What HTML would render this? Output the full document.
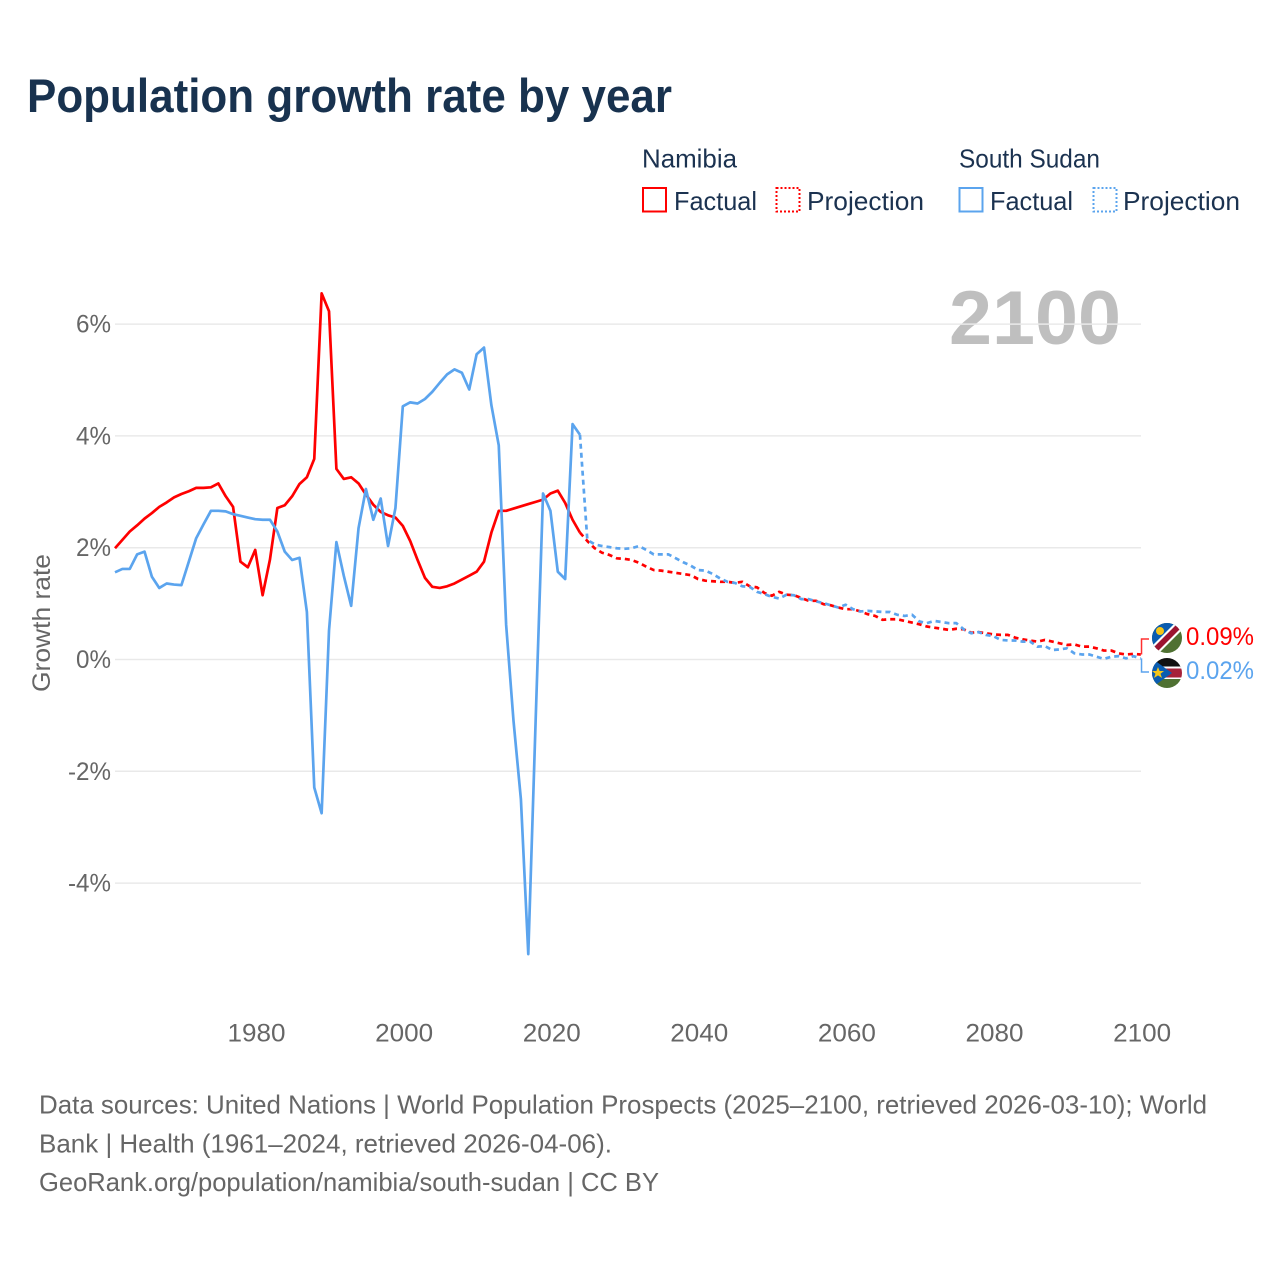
<!DOCTYPE html>
<html lang="en">
<head>
<meta charset="utf-8">
<title>Population growth rate by year</title>
<style>
html,body{margin:0;padding:0;background:#fff;}
svg{display:block;font-family:"Liberation Sans","DejaVu Sans",sans-serif;}
</style>
</head>
<body>
<svg id="chart" xmlns="http://www.w3.org/2000/svg" width="1280" height="1280" viewBox="0 0 1280 1280">
  <defs>
    <clipPath id="clip-flag-na"><circle cx="1167" cy="638" r="15"/></clipPath>
    <clipPath id="clip-flag-ss"><circle cx="1167" cy="673" r="15"/></clipPath>
  </defs>
  <rect width="1280" height="1280" fill="#fff"/>
  <text x="27" y="112" font-size="47" font-weight="700" fill="#18324f" textLength="645" lengthAdjust="spacingAndGlyphs">Population growth rate by year</text>

  <g font-size="26" fill="#1b3250">
    <text x="642" y="167.5" textLength="95" lengthAdjust="spacingAndGlyphs">Namibia</text>
    <text x="959" y="167.5" textLength="141" lengthAdjust="spacingAndGlyphs">South Sudan</text>
    <rect x="643" y="188" width="23" height="23.5" fill="none" stroke="#ff0000" stroke-width="2"/>
    <text x="674" y="210" textLength="83" lengthAdjust="spacingAndGlyphs">Factual</text>
    <rect x="776.5" y="188" width="23" height="23.5" fill="none" stroke="#ff0000" stroke-width="2" stroke-dasharray="2 2"/>
    <text x="807" y="210" textLength="117" lengthAdjust="spacingAndGlyphs">Projection</text>
    <rect x="959.5" y="188" width="23" height="23.5" fill="none" stroke="#5ba4ee" stroke-width="2"/>
    <text x="990" y="210" textLength="83" lengthAdjust="spacingAndGlyphs">Factual</text>
    <rect x="1093.5" y="188" width="23" height="23.5" fill="none" stroke="#5ba4ee" stroke-width="2" stroke-dasharray="2 2"/>
    <text x="1123" y="210" textLength="117" lengthAdjust="spacingAndGlyphs">Projection</text>
  </g>

  <text x="949" y="344" font-size="76" font-weight="700" fill="#bfbfbf" textLength="172" lengthAdjust="spacingAndGlyphs">2100</text>
  <g id="grid"></g>
  <g id="yticks" font-size="25" fill="#666"></g>
  <g id="xticks" font-size="25" fill="#666"></g>
  <text transform="translate(50 623) rotate(-90)" text-anchor="middle" font-size="25" fill="#666" textLength="138" lengthAdjust="spacingAndGlyphs">Growth rate</text>
  <g id="series"></g>
  <g id="connectors"></g>

  <g clip-path="url(#clip-flag-na)">
    <rect x="1150" y="621" width="34" height="34" fill="#4f7132"/>
    <polygon points="1150,621 1184,621 1150,655" fill="#0a5cb0"/>
    <polygon points="1147,651 1180,618 1187,625 1154,658" fill="#fff"/>
    <polygon points="1148.5,652.5 1181.5,619.5 1185.5,623.5 1152.5,656.5" fill="#9c1330"/>
    <circle cx="1160" cy="631" r="4" fill="#f5c518"/>
  </g>
  <g clip-path="url(#clip-flag-ss)">
    <rect x="1150" y="656" width="34" height="12" fill="#111"/>
    <rect x="1150" y="666.5" width="34" height="13" fill="#fff"/>
    <rect x="1150" y="668.5" width="34" height="9" fill="#a6223a"/>
    <rect x="1150" y="679" width="34" height="11" fill="#4f7132"/>
    <polygon points="1150,657 1172,673 1150,689" fill="#0a5cb0"/>
    <polygon points="1158,667 1159.6,671 1164,671 1160.5,673.8 1162,678 1158,675.4 1154,678 1155.5,673.8 1152,671 1156.4,671" fill="#f5c518"/>
  </g>
  <text id="label-na" x="1186" y="645" font-size="25" fill="#ff0000" textLength="68" lengthAdjust="spacingAndGlyphs"></text>
  <text id="label-ss" x="1186" y="679" font-size="25" fill="#5ba4ee" textLength="68" lengthAdjust="spacingAndGlyphs"></text>

  <g font-size="26" fill="#666">
    <text x="39" y="1113.5" textLength="1168" lengthAdjust="spacingAndGlyphs">Data sources: United Nations | World Population Prospects (2025–2100, retrieved 2026-03-10); World</text>
    <text x="39" y="1152.5" textLength="573" lengthAdjust="spacingAndGlyphs">Bank | Health (1961–2024, retrieved 2026-04-06).</text>
    <text x="39" y="1191" textLength="620" lengthAdjust="spacingAndGlyphs">GeoRank.org/population/namibia/south-sudan | CC BY</text>
  </g>
</svg>
<script>
const yTicks = [6, 4, 2, 0, -2, -4];
const xTicks = [1980, 2000, 2020, 2040, 2060, 2080, 2100];
const factualYears = [1961,1962,1963,1964,1965,1966,1967,1968,1969,1970,1971,1972,1973,1974,1975,1976,1977,1978,1979,1980,1981,1982,1983,1984,1985,1986,1987,1988,1989,1990,1991,1992,1993,1994,1995,1996,1997,1998,1999,2000,2001,2002,2003,2004,2005,2006,2007,2008,2009,2010,2011,2012,2013,2014,2015,2016,2017,2018,2019,2020,2021,2022,2023,2024];
const projectionYears = [2024,2025,2026,2027,2028,2029,2030,2031,2032,2033,2034,2035,2036,2037,2038,2039,2040,2041,2042,2043,2044,2045,2046,2047,2048,2049,2050,2051,2052,2053,2054,2055,2056,2057,2058,2059,2060,2061,2062,2063,2064,2065,2066,2067,2068,2069,2070,2071,2072,2073,2074,2075,2076,2077,2078,2079,2080,2081,2082,2083,2084,2085,2086,2087,2088,2089,2090,2091,2092,2093,2094,2095,2096,2097,2098,2099,2100];
const namibiaFactual = [1.99,2.14,2.29,2.40,2.52,2.62,2.73,2.81,2.90,2.96,3.01,3.07,3.07,3.08,3.15,2.92,2.73,1.75,1.65,1.96,1.15,1.79,2.71,2.76,2.92,3.14,3.26,3.59,6.55,6.23,3.41,3.23,3.26,3.15,2.95,2.77,2.64,2.58,2.54,2.39,2.12,1.78,1.46,1.30,1.28,1.31,1.36,1.43,1.50,1.57,1.75,2.27,2.66,2.66,2.70,2.74,2.78,2.82,2.86,2.97,3.02,2.80,2.50,2.27];
const southSudanFactual = [1.56,1.62,1.62,1.88,1.93,1.48,1.28,1.36,1.34,1.33,1.75,2.17,2.42,2.66,2.66,2.65,2.60,2.57,2.54,2.51,2.50,2.50,2.29,1.93,1.78,1.82,0.85,-2.29,-2.75,0.52,2.10,1.50,0.96,2.35,3.05,2.50,2.88,2.03,2.71,4.53,4.60,4.58,4.66,4.79,4.95,5.10,5.19,5.13,4.83,5.46,5.58,4.55,3.83,0.62,-1.10,-2.50,-5.27,-1.08,2.97,2.66,1.57,1.44,4.21,4.02];
const namibiaProjection = [2.27,2.12,1.99,1.91,1.87,1.81,1.80,1.78,1.73,1.66,1.60,1.59,1.57,1.55,1.53,1.51,1.44,1.41,1.40,1.39,1.39,1.37,1.39,1.31,1.29,1.19,1.14,1.21,1.16,1.15,1.10,1.05,1.05,0.99,0.97,0.93,0.90,0.90,0.86,0.81,0.78,0.71,0.72,0.72,0.69,0.66,0.63,0.59,0.57,0.55,0.53,0.55,0.54,0.48,0.49,0.47,0.45,0.44,0.44,0.39,0.36,0.34,0.32,0.35,0.32,0.29,0.26,0.27,0.23,0.23,0.20,0.16,0.16,0.11,0.09,0.10,0.09];
const southSudanProjection = [4.02,2.14,2.06,2.03,2.01,1.99,1.98,1.99,2.03,1.96,1.88,1.88,1.88,1.81,1.74,1.68,1.60,1.59,1.53,1.45,1.39,1.37,1.31,1.30,1.21,1.17,1.12,1.09,1.16,1.15,1.08,1.08,1.04,1.01,0.97,0.93,0.98,0.90,0.86,0.87,0.86,0.85,0.85,0.80,0.78,0.80,0.68,0.65,0.69,0.67,0.65,0.65,0.54,0.47,0.49,0.44,0.42,0.35,0.34,0.34,0.32,0.32,0.23,0.24,0.17,0.18,0.20,0.11,0.09,0.09,0.05,0.01,0.05,0.06,0.02,0.06,0.02];

function xScale(year) { return 115 + (year - 1961) * 7.38; }
function yScale(pct) { return 659.5 - pct * 55.9; }
const SVGNS = 'http://www.w3.org/2000/svg';
function make(tag, parentId) {
  const el = document.createElementNS(SVGNS, tag);
  document.getElementById(parentId).appendChild(el);
  return el;
}
function pathFor(years, values) {
  return values.map(function (v, i) {
    return (i ? 'L' : 'M') + xScale(years[i]).toFixed(2) + ' ' + yScale(v).toFixed(2);
  }).join(' ');
}

yTicks.forEach(function (t) {
  const line = make('line', 'grid');
  
  
  line.setAttribute('x1', 115);
  line.setAttribute('x2', 1141);
  line.setAttribute('y1', yScale(t));
  line.setAttribute('y2', yScale(t));
  line.setAttribute('stroke', '#e9e9e9');
  line.setAttribute('stroke-width', '1.5');

  const label = make('text', 'yticks');
  
  
  label.setAttribute('x', 111);
  label.setAttribute('y', yScale(t) + 8.5);
  label.setAttribute('text-anchor', 'end');
  label.setAttribute('textLength', t < 0 ? 43 : 35);
  label.setAttribute('lengthAdjust', 'spacingAndGlyphs');
  label.textContent = t + '%';
});

xTicks.forEach(function (t) {
  const label = make('text', 'xticks');
  
  
  label.setAttribute('x', xScale(t) + 1.3);
  label.setAttribute('y', 1041.5);
  label.setAttribute('text-anchor', 'middle');
  label.setAttribute('textLength', 58);
  label.setAttribute('lengthAdjust', 'spacingAndGlyphs');
  label.textContent = t;
});

function addLine(name, years, values, color, dashed) {
  const p = make('path', 'series');
  
  
  p.setAttribute('d', pathFor(years, values));
  p.setAttribute('fill', 'none');
  p.setAttribute('stroke', color);
  p.setAttribute('stroke-width', '2.7');
  p.setAttribute('stroke-linejoin', 'round');
  if (dashed) p.setAttribute('stroke-dasharray', '5 4');
}
addLine('namibia-factual-line', factualYears, namibiaFactual, '#ff0000', false);
addLine('namibia-projection-line', projectionYears, namibiaProjection, '#ff0000', true);
addLine('south-sudan-factual-line', factualYears, southSudanFactual, '#5ba4ee', false);
addLine('south-sudan-projection-line', projectionYears, southSudanProjection, '#5ba4ee', true);

const lastNa = namibiaProjection[namibiaProjection.length - 1];
const lastSs = southSudanProjection[southSudanProjection.length - 1];
document.getElementById('label-na').textContent = lastNa.toFixed(2) + '%';
document.getElementById('label-ss').textContent = lastSs.toFixed(2) + '%';

const connNa = make('path', 'connectors');


connNa.setAttribute('d', 'M' + (xScale(2100) + 0.7) + ' ' + yScale(lastNa) + ' V639 H1149');
connNa.setAttribute('fill', 'none');
connNa.setAttribute('stroke', '#ff3030');
connNa.setAttribute('stroke-width', '1.5');

const connSs = make('path', 'connectors');


connSs.setAttribute('d', 'M' + (xScale(2100) + 0.7) + ' ' + yScale(lastSs) + ' V672 H1149');
connSs.setAttribute('fill', 'none');
connSs.setAttribute('stroke', '#5ba4ee');
connSs.setAttribute('stroke-width', '1.5');
</script>
</body>
</html>
